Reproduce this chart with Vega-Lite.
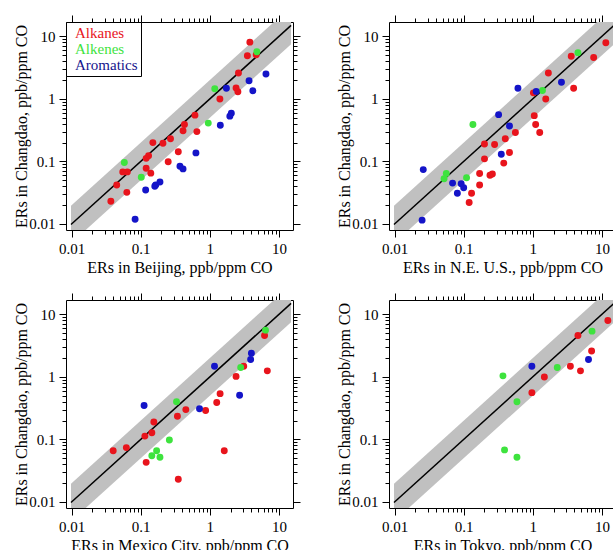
{
  "$schema": "https://vega.github.io/schema/vega-lite/v6.json",
  "autosize": {"type": "pad"},
  "padding": {"left": 13, "top": 14, "right": 0, "bottom": 0},
  "background": "white",
  "config": {
    "view": {"stroke": "black", "strokeWidth": 1},
    "axis": {"domain": false, "grid": false, "tickColor": "black", "labelColor": "black", "titleColor": "black", "labelFont": "Liberation Serif", "titleFont": "Liberation Serif", "labelFontSize": 15, "titleFontSize": 16, "titleFontWeight": "normal"},
    "legend": {"labelFont": "Liberation Serif"}
  },
  "datasets": {
    "band": [
      {"x": 0.0098, "lo": 0.0049, "hi": 0.0196, "mid": 0.0098},
      {"x": 15, "lo": 7.5, "hi": 30, "mid": 15}
    ],
    "pts": [
      {"site": "Beijing", "group": "Alkanes", "x": 3.8, "y": 8.1},
      {"site": "Beijing", "group": "Alkanes", "x": 3.5, "y": 4.9},
      {"site": "Beijing", "group": "Alkanes", "x": 4.7, "y": 5.1},
      {"site": "Beijing", "group": "Alkanes", "x": 2.6, "y": 2.6},
      {"site": "Beijing", "group": "Alkanes", "x": 2.4, "y": 1.5},
      {"site": "Beijing", "group": "Alkanes", "x": 2.55, "y": 1.3},
      {"site": "Beijing", "group": "Alkanes", "x": 1.4, "y": 1.0},
      {"site": "Beijing", "group": "Alkanes", "x": 0.61, "y": 0.55},
      {"site": "Beijing", "group": "Alkanes", "x": 0.43, "y": 0.39},
      {"site": "Beijing", "group": "Alkanes", "x": 0.41, "y": 0.31},
      {"site": "Beijing", "group": "Alkanes", "x": 0.65, "y": 0.30},
      {"site": "Beijing", "group": "Alkanes", "x": 0.27, "y": 0.23},
      {"site": "Beijing", "group": "Alkanes", "x": 0.21, "y": 0.195},
      {"site": "Beijing", "group": "Alkanes", "x": 0.15, "y": 0.20},
      {"site": "Beijing", "group": "Alkanes", "x": 0.13, "y": 0.123},
      {"site": "Beijing", "group": "Alkanes", "x": 0.12, "y": 0.112},
      {"site": "Beijing", "group": "Alkanes", "x": 0.35, "y": 0.143},
      {"site": "Beijing", "group": "Alkanes", "x": 0.25, "y": 0.099},
      {"site": "Beijing", "group": "Alkanes", "x": 0.12, "y": 0.078},
      {"site": "Beijing", "group": "Alkanes", "x": 0.14, "y": 0.065},
      {"site": "Beijing", "group": "Alkanes", "x": 0.055, "y": 0.068},
      {"site": "Beijing", "group": "Alkanes", "x": 0.064, "y": 0.068},
      {"site": "Beijing", "group": "Alkanes", "x": 0.045, "y": 0.042},
      {"site": "Beijing", "group": "Alkanes", "x": 0.063, "y": 0.032},
      {"site": "Beijing", "group": "Alkanes", "x": 0.037, "y": 0.023},
      {"site": "Beijing", "group": "Alkenes", "x": 4.8, "y": 5.7},
      {"site": "Beijing", "group": "Alkenes", "x": 1.18, "y": 1.45},
      {"site": "Beijing", "group": "Alkenes", "x": 0.95, "y": 0.41},
      {"site": "Beijing", "group": "Alkenes", "x": 0.058, "y": 0.096},
      {"site": "Beijing", "group": "Alkenes", "x": 0.102, "y": 0.056},
      {"site": "Beijing", "group": "Aromatics", "x": 6.5, "y": 2.5},
      {"site": "Beijing", "group": "Aromatics", "x": 3.7, "y": 1.95},
      {"site": "Beijing", "group": "Aromatics", "x": 1.74, "y": 1.48},
      {"site": "Beijing", "group": "Aromatics", "x": 4.2, "y": 1.35},
      {"site": "Beijing", "group": "Aromatics", "x": 2.05, "y": 0.59},
      {"site": "Beijing", "group": "Aromatics", "x": 1.95, "y": 0.53},
      {"site": "Beijing", "group": "Aromatics", "x": 1.42, "y": 0.38},
      {"site": "Beijing", "group": "Aromatics", "x": 0.63, "y": 0.137},
      {"site": "Beijing", "group": "Aromatics", "x": 0.37, "y": 0.084},
      {"site": "Beijing", "group": "Aromatics", "x": 0.41, "y": 0.076},
      {"site": "Beijing", "group": "Aromatics", "x": 0.19, "y": 0.047},
      {"site": "Beijing", "group": "Aromatics", "x": 0.165, "y": 0.042},
      {"site": "Beijing", "group": "Aromatics", "x": 0.16, "y": 0.040},
      {"site": "Beijing", "group": "Aromatics", "x": 0.118, "y": 0.035},
      {"site": "Beijing", "group": "Aromatics", "x": 0.083, "y": 0.0119},
      {"site": "NEUS", "group": "Alkanes", "x": 11.4, "y": 7.9},
      {"site": "NEUS", "group": "Alkanes", "x": 3.6, "y": 4.8},
      {"site": "NEUS", "group": "Alkanes", "x": 7.6, "y": 4.6},
      {"site": "NEUS", "group": "Alkanes", "x": 1.68, "y": 2.6},
      {"site": "NEUS", "group": "Alkanes", "x": 3.9, "y": 1.48},
      {"site": "NEUS", "group": "Alkanes", "x": 1.02, "y": 1.25},
      {"site": "NEUS", "group": "Alkanes", "x": 1.54, "y": 1.0},
      {"site": "NEUS", "group": "Alkanes", "x": 1.05, "y": 0.54},
      {"site": "NEUS", "group": "Alkanes", "x": 1.1, "y": 0.39},
      {"site": "NEUS", "group": "Alkanes", "x": 1.26, "y": 0.29},
      {"site": "NEUS", "group": "Alkanes", "x": 0.56, "y": 0.29},
      {"site": "NEUS", "group": "Alkanes", "x": 0.40, "y": 0.23},
      {"site": "NEUS", "group": "Alkanes", "x": 0.28, "y": 0.186},
      {"site": "NEUS", "group": "Alkanes", "x": 0.20, "y": 0.19},
      {"site": "NEUS", "group": "Alkanes", "x": 0.46, "y": 0.139},
      {"site": "NEUS", "group": "Alkanes", "x": 0.20, "y": 0.11},
      {"site": "NEUS", "group": "Alkanes", "x": 0.38, "y": 0.094},
      {"site": "NEUS", "group": "Alkanes", "x": 0.17, "y": 0.064},
      {"site": "NEUS", "group": "Alkanes", "x": 0.26, "y": 0.063},
      {"site": "NEUS", "group": "Alkanes", "x": 0.24, "y": 0.06},
      {"site": "NEUS", "group": "Alkanes", "x": 0.17, "y": 0.042},
      {"site": "NEUS", "group": "Alkanes", "x": 0.13, "y": 0.031},
      {"site": "NEUS", "group": "Alkanes", "x": 0.12, "y": 0.022},
      {"site": "NEUS", "group": "Alkenes", "x": 4.5, "y": 5.5},
      {"site": "NEUS", "group": "Alkenes", "x": 1.38, "y": 1.36},
      {"site": "NEUS", "group": "Alkenes", "x": 0.136, "y": 0.39},
      {"site": "NEUS", "group": "Alkenes", "x": 0.056, "y": 0.064},
      {"site": "NEUS", "group": "Alkenes", "x": 0.11, "y": 0.055},
      {"site": "NEUS", "group": "Alkenes", "x": 0.052, "y": 0.053},
      {"site": "NEUS", "group": "Aromatics", "x": 2.6, "y": 1.85},
      {"site": "NEUS", "group": "Aromatics", "x": 0.61, "y": 1.48},
      {"site": "NEUS", "group": "Aromatics", "x": 1.12, "y": 1.32},
      {"site": "NEUS", "group": "Aromatics", "x": 0.32, "y": 0.56},
      {"site": "NEUS", "group": "Aromatics", "x": 0.46, "y": 0.37},
      {"site": "NEUS", "group": "Aromatics", "x": 0.35, "y": 0.13},
      {"site": "NEUS", "group": "Aromatics", "x": 0.026, "y": 0.074},
      {"site": "NEUS", "group": "Aromatics", "x": 0.069, "y": 0.045},
      {"site": "NEUS", "group": "Aromatics", "x": 0.092, "y": 0.044},
      {"site": "NEUS", "group": "Aromatics", "x": 0.1, "y": 0.038},
      {"site": "NEUS", "group": "Aromatics", "x": 0.081, "y": 0.031},
      {"site": "NEUS", "group": "Aromatics", "x": 0.025, "y": 0.0115},
      {"site": "Mexico", "group": "Alkanes", "x": 6.2, "y": 4.6},
      {"site": "Mexico", "group": "Alkanes", "x": 3.1, "y": 1.48},
      {"site": "Mexico", "group": "Alkanes", "x": 6.8, "y": 1.25},
      {"site": "Mexico", "group": "Alkanes", "x": 2.4, "y": 1.02},
      {"site": "Mexico", "group": "Alkanes", "x": 1.41, "y": 0.54},
      {"site": "Mexico", "group": "Alkanes", "x": 1.26, "y": 0.39},
      {"site": "Mexico", "group": "Alkanes", "x": 0.45, "y": 0.30},
      {"site": "Mexico", "group": "Alkanes", "x": 0.87, "y": 0.29},
      {"site": "Mexico", "group": "Alkanes", "x": 0.34, "y": 0.235},
      {"site": "Mexico", "group": "Alkanes", "x": 0.155, "y": 0.19},
      {"site": "Mexico", "group": "Alkanes", "x": 0.145, "y": 0.128},
      {"site": "Mexico", "group": "Alkanes", "x": 0.115, "y": 0.113},
      {"site": "Mexico", "group": "Alkanes", "x": 0.062, "y": 0.074},
      {"site": "Mexico", "group": "Alkanes", "x": 0.040, "y": 0.066},
      {"site": "Mexico", "group": "Alkanes", "x": 1.62, "y": 0.066},
      {"site": "Mexico", "group": "Alkanes", "x": 0.12, "y": 0.043},
      {"site": "Mexico", "group": "Alkanes", "x": 0.35, "y": 0.023},
      {"site": "Mexico", "group": "Alkenes", "x": 6.4, "y": 5.6},
      {"site": "Mexico", "group": "Alkenes", "x": 2.8, "y": 1.41},
      {"site": "Mexico", "group": "Alkenes", "x": 0.33, "y": 0.40},
      {"site": "Mexico", "group": "Alkenes", "x": 0.26, "y": 0.098},
      {"site": "Mexico", "group": "Alkenes", "x": 0.17, "y": 0.066},
      {"site": "Mexico", "group": "Alkenes", "x": 0.145, "y": 0.055},
      {"site": "Mexico", "group": "Alkenes", "x": 0.19, "y": 0.052},
      {"site": "Mexico", "group": "Aromatics", "x": 4.0, "y": 2.4},
      {"site": "Mexico", "group": "Aromatics", "x": 3.9, "y": 1.9},
      {"site": "Mexico", "group": "Aromatics", "x": 1.17, "y": 1.48},
      {"site": "Mexico", "group": "Aromatics", "x": 2.7, "y": 0.51},
      {"site": "Mexico", "group": "Aromatics", "x": 0.112, "y": 0.35},
      {"site": "Mexico", "group": "Aromatics", "x": 0.71, "y": 0.31},
      {"site": "Tokyo", "group": "Alkanes", "x": 12.2, "y": 8.0},
      {"site": "Tokyo", "group": "Alkanes", "x": 4.5, "y": 4.6},
      {"site": "Tokyo", "group": "Alkanes", "x": 7.1, "y": 2.6},
      {"site": "Tokyo", "group": "Alkanes", "x": 3.5, "y": 1.48},
      {"site": "Tokyo", "group": "Alkanes", "x": 4.9, "y": 1.25},
      {"site": "Tokyo", "group": "Alkanes", "x": 1.47, "y": 1.0},
      {"site": "Tokyo", "group": "Alkanes", "x": 0.97, "y": 0.56},
      {"site": "Tokyo", "group": "Alkenes", "x": 7.2, "y": 5.4},
      {"site": "Tokyo", "group": "Alkenes", "x": 2.26, "y": 1.41},
      {"site": "Tokyo", "group": "Alkenes", "x": 0.37, "y": 1.04},
      {"site": "Tokyo", "group": "Alkenes", "x": 0.59, "y": 0.40},
      {"site": "Tokyo", "group": "Alkenes", "x": 0.39, "y": 0.068},
      {"site": "Tokyo", "group": "Alkenes", "x": 0.59, "y": 0.052},
      {"site": "Tokyo", "group": "Aromatics", "x": 6.4, "y": 1.9},
      {"site": "Tokyo", "group": "Aromatics", "x": 0.97, "y": 1.48}
    ]
  },
  "columns": 2,
  "bounds": "flush",
  "spacing": {"row": 70, "column": 96},
  "resolve": {"scale": {"color": "independent"}, "legend": {"color": "independent"}},
  "concat": [
    {
      "width": 227, "height": 208,
      "resolve": {"axis": {"x": "independent", "y": "independent"}},
      "layer": [
        {"data": {"name": "band"}, "mark": {"type": "area", "color": "#c0c0c0", "clip": true},
         "encoding": {
           "x": {"field": "x", "type": "quantitative", "scale": {"type": "log", "domain": [0.0083, 16]},
                 "axis": {"orient": "bottom", "title": "ERs in Beijing, ppb/ppm CO", "values": [0.01,0.02,0.03,0.04,0.05,0.06,0.07,0.08,0.09,0.1,0.2,0.3,0.4,0.5,0.6,0.7,0.8,0.9,1,2,3,4,5,6,7,8,9,10], "format": "~g", "labelExpr": "abs(log(datum.value)/LN10 - round(log(datum.value)/LN10)) < 0.001 ? datum.label : ''", "labelOverlap": false, "labelFlush": false, "tickSize": {"condition": {"test": "abs(log(datum.value)/LN10 - round(log(datum.value)/LN10)) < 0.001", "value": 7}, "value": 4}, "labelPadding": 4, "titlePadding": 3}},
           "y": {"field": "lo", "type": "quantitative", "scale": {"type": "log", "domain": [0.008, 17]},
                 "axis": {"orient": "left", "title": "ERs in Changdao, ppb/ppm CO", "values": [0.01,0.02,0.03,0.04,0.05,0.06,0.07,0.08,0.09,0.1,0.2,0.3,0.4,0.5,0.6,0.7,0.8,0.9,1,2,3,4,5,6,7,8,9,10], "format": "~g", "labelExpr": "abs(log(datum.value)/LN10 - round(log(datum.value)/LN10)) < 0.001 ? datum.label : ''", "labelOverlap": false, "labelFlush": false, "tickSize": {"condition": {"test": "abs(log(datum.value)/LN10 - round(log(datum.value)/LN10)) < 0.001", "value": 7}, "value": 4}, "labelPadding": 4, "titlePadding": -1}},
           "y2": {"field": "hi"}
         }},
        {"data": {"name": "band"}, "mark": {"type": "line", "color": "black", "strokeWidth": 1.5, "clip": true},
         "encoding": {
           "x": {"field": "x", "type": "quantitative", "scale": {"type": "log", "domain": [0.0083, 16]},
                 "axis": {"orient": "top", "title": null, "labels": false, "values": [0.01,0.02,0.03,0.04,0.05,0.06,0.07,0.08,0.09,0.1,0.2,0.3,0.4,0.5,0.6,0.7,0.8,0.9,1,2,3,4,5,6,7,8,9,10], "tickSize": {"condition": {"test": "abs(log(datum.value)/LN10 - round(log(datum.value)/LN10)) < 0.001", "value": 7}, "value": 4}}},
           "y": {"field": "mid", "type": "quantitative", "scale": {"type": "log", "domain": [0.008, 17]},
                 "axis": {"orient": "right", "title": null, "labels": false, "values": [0.01,0.02,0.03,0.04,0.05,0.06,0.07,0.08,0.09,0.1,0.2,0.3,0.4,0.5,0.6,0.7,0.8,0.9,1,2,3,4,5,6,7,8,9,10], "tickSize": {"condition": {"test": "abs(log(datum.value)/LN10 - round(log(datum.value)/LN10)) < 0.001", "value": 7}, "value": 4}}}
         }},
        {"data": {"name": "pts"}, "transform": [{"filter": "datum.site == 'Beijing'"}],
         "mark": {"type": "circle", "size": 48, "opacity": 1, "clip": true},
         "encoding": {
           "x": {"field": "x", "type": "quantitative", "scale": {"type": "log", "domain": [0.0083, 16]}, "axis": null},
           "y": {"field": "y", "type": "quantitative", "scale": {"type": "log", "domain": [0.008, 17]}, "axis": null},
           "color": {"field": "group", "type": "nominal", "scale": {"domain": ["Alkanes", "Alkenes", "Aromatics"], "range": ["#e8141c", "#3ee33e", "#1414c8"]},
                     "legend": {"title": null, "orient": "top-left", "offset": 0, "padding": 3, "strokeColor": "black", "fillColor": "white", "symbolSize": 0, "symbolOpacity": 0, "symbolStrokeWidth": 0, "labelOffset": -9, "labelFont": "Liberation Serif", "labelFontSize": 15, "rowPadding": 0, "labelColor": {"expr": "datum.label == 'Alkanes' ? '#e8141c' : datum.label == 'Alkenes' ? '#3ee33e' : '#14148c'"}}}
         }}
      ]
    },
    {
      "width": 227, "height": 208,
      "resolve": {"axis": {"x": "independent", "y": "independent"}},
      "layer": [
        {"data": {"name": "band"}, "mark": {"type": "area", "color": "#c0c0c0", "clip": true},
         "encoding": {
           "x": {"field": "x", "type": "quantitative", "scale": {"type": "log", "domain": [0.0083, 16]},
                 "axis": {"orient": "bottom", "title": "ERs in N.E. U.S., ppb/ppm CO", "values": [0.01,0.02,0.03,0.04,0.05,0.06,0.07,0.08,0.09,0.1,0.2,0.3,0.4,0.5,0.6,0.7,0.8,0.9,1,2,3,4,5,6,7,8,9,10], "format": "~g", "labelExpr": "abs(log(datum.value)/LN10 - round(log(datum.value)/LN10)) < 0.001 ? datum.label : ''", "labelOverlap": false, "labelFlush": false, "tickSize": {"condition": {"test": "abs(log(datum.value)/LN10 - round(log(datum.value)/LN10)) < 0.001", "value": 7}, "value": 4}, "labelPadding": 4, "titlePadding": 3}},
           "y": {"field": "lo", "type": "quantitative", "scale": {"type": "log", "domain": [0.008, 17]},
                 "axis": {"orient": "left", "title": "ERs in Changdao, ppb/ppm CO", "values": [0.01,0.02,0.03,0.04,0.05,0.06,0.07,0.08,0.09,0.1,0.2,0.3,0.4,0.5,0.6,0.7,0.8,0.9,1,2,3,4,5,6,7,8,9,10], "format": "~g", "labelExpr": "abs(log(datum.value)/LN10 - round(log(datum.value)/LN10)) < 0.001 ? datum.label : ''", "labelOverlap": false, "labelFlush": false, "tickSize": {"condition": {"test": "abs(log(datum.value)/LN10 - round(log(datum.value)/LN10)) < 0.001", "value": 7}, "value": 4}, "labelPadding": 4, "titlePadding": -1}},
           "y2": {"field": "hi"}
         }},
        {"data": {"name": "band"}, "mark": {"type": "line", "color": "black", "strokeWidth": 1.5, "clip": true},
         "encoding": {
           "x": {"field": "x", "type": "quantitative", "scale": {"type": "log", "domain": [0.0083, 16]},
                 "axis": {"orient": "top", "title": null, "labels": false, "values": [0.01,0.02,0.03,0.04,0.05,0.06,0.07,0.08,0.09,0.1,0.2,0.3,0.4,0.5,0.6,0.7,0.8,0.9,1,2,3,4,5,6,7,8,9,10], "tickSize": {"condition": {"test": "abs(log(datum.value)/LN10 - round(log(datum.value)/LN10)) < 0.001", "value": 7}, "value": 4}}},
           "y": {"field": "mid", "type": "quantitative", "scale": {"type": "log", "domain": [0.008, 17]},
                 "axis": {"orient": "right", "title": null, "labels": false, "values": [0.01,0.02,0.03,0.04,0.05,0.06,0.07,0.08,0.09,0.1,0.2,0.3,0.4,0.5,0.6,0.7,0.8,0.9,1,2,3,4,5,6,7,8,9,10], "tickSize": {"condition": {"test": "abs(log(datum.value)/LN10 - round(log(datum.value)/LN10)) < 0.001", "value": 7}, "value": 4}}}
         }},
        {"data": {"name": "pts"}, "transform": [{"filter": "datum.site == 'NEUS'"}],
         "mark": {"type": "circle", "size": 48, "opacity": 1, "clip": true},
         "encoding": {
           "x": {"field": "x", "type": "quantitative", "scale": {"type": "log", "domain": [0.0083, 16]}, "axis": null},
           "y": {"field": "y", "type": "quantitative", "scale": {"type": "log", "domain": [0.008, 17]}, "axis": null},
           "color": {"field": "group", "type": "nominal", "scale": {"domain": ["Alkanes", "Alkenes", "Aromatics"], "range": ["#e8141c", "#3ee33e", "#1414c8"]}, "legend": null}
         }}
      ]
    },
    {
      "width": 227, "height": 208,
      "resolve": {"axis": {"x": "independent", "y": "independent"}},
      "layer": [
        {"data": {"name": "band"}, "mark": {"type": "area", "color": "#c0c0c0", "clip": true},
         "encoding": {
           "x": {"field": "x", "type": "quantitative", "scale": {"type": "log", "domain": [0.0083, 16]},
                 "axis": {"orient": "bottom", "title": "ERs in Mexico City, ppb/ppm CO", "values": [0.01,0.02,0.03,0.04,0.05,0.06,0.07,0.08,0.09,0.1,0.2,0.3,0.4,0.5,0.6,0.7,0.8,0.9,1,2,3,4,5,6,7,8,9,10], "format": "~g", "labelExpr": "abs(log(datum.value)/LN10 - round(log(datum.value)/LN10)) < 0.001 ? datum.label : ''", "labelOverlap": false, "labelFlush": false, "tickSize": {"condition": {"test": "abs(log(datum.value)/LN10 - round(log(datum.value)/LN10)) < 0.001", "value": 7}, "value": 4}, "labelPadding": 4, "titlePadding": 3}},
           "y": {"field": "lo", "type": "quantitative", "scale": {"type": "log", "domain": [0.008, 17]},
                 "axis": {"orient": "left", "title": "ERs in Changdao, ppb/ppm CO", "values": [0.01,0.02,0.03,0.04,0.05,0.06,0.07,0.08,0.09,0.1,0.2,0.3,0.4,0.5,0.6,0.7,0.8,0.9,1,2,3,4,5,6,7,8,9,10], "format": "~g", "labelExpr": "abs(log(datum.value)/LN10 - round(log(datum.value)/LN10)) < 0.001 ? datum.label : ''", "labelOverlap": false, "labelFlush": false, "tickSize": {"condition": {"test": "abs(log(datum.value)/LN10 - round(log(datum.value)/LN10)) < 0.001", "value": 7}, "value": 4}, "labelPadding": 4, "titlePadding": -1}},
           "y2": {"field": "hi"}
         }},
        {"data": {"name": "band"}, "mark": {"type": "line", "color": "black", "strokeWidth": 1.5, "clip": true},
         "encoding": {
           "x": {"field": "x", "type": "quantitative", "scale": {"type": "log", "domain": [0.0083, 16]},
                 "axis": {"orient": "top", "title": null, "labels": false, "values": [0.01,0.02,0.03,0.04,0.05,0.06,0.07,0.08,0.09,0.1,0.2,0.3,0.4,0.5,0.6,0.7,0.8,0.9,1,2,3,4,5,6,7,8,9,10], "tickSize": {"condition": {"test": "abs(log(datum.value)/LN10 - round(log(datum.value)/LN10)) < 0.001", "value": 7}, "value": 4}}},
           "y": {"field": "mid", "type": "quantitative", "scale": {"type": "log", "domain": [0.008, 17]},
                 "axis": {"orient": "right", "title": null, "labels": false, "values": [0.01,0.02,0.03,0.04,0.05,0.06,0.07,0.08,0.09,0.1,0.2,0.3,0.4,0.5,0.6,0.7,0.8,0.9,1,2,3,4,5,6,7,8,9,10], "tickSize": {"condition": {"test": "abs(log(datum.value)/LN10 - round(log(datum.value)/LN10)) < 0.001", "value": 7}, "value": 4}}}
         }},
        {"data": {"name": "pts"}, "transform": [{"filter": "datum.site == 'Mexico'"}],
         "mark": {"type": "circle", "size": 48, "opacity": 1, "clip": true},
         "encoding": {
           "x": {"field": "x", "type": "quantitative", "scale": {"type": "log", "domain": [0.0083, 16]}, "axis": null},
           "y": {"field": "y", "type": "quantitative", "scale": {"type": "log", "domain": [0.008, 17]}, "axis": null},
           "color": {"field": "group", "type": "nominal", "scale": {"domain": ["Alkanes", "Alkenes", "Aromatics"], "range": ["#e8141c", "#3ee33e", "#1414c8"]}, "legend": null}
         }}
      ]
    },
    {
      "width": 227, "height": 208,
      "resolve": {"axis": {"x": "independent", "y": "independent"}},
      "layer": [
        {"data": {"name": "band"}, "mark": {"type": "area", "color": "#c0c0c0", "clip": true},
         "encoding": {
           "x": {"field": "x", "type": "quantitative", "scale": {"type": "log", "domain": [0.0083, 16]},
                 "axis": {"orient": "bottom", "title": "ERs in Tokyo, ppb/ppm CO", "values": [0.01,0.02,0.03,0.04,0.05,0.06,0.07,0.08,0.09,0.1,0.2,0.3,0.4,0.5,0.6,0.7,0.8,0.9,1,2,3,4,5,6,7,8,9,10], "format": "~g", "labelExpr": "abs(log(datum.value)/LN10 - round(log(datum.value)/LN10)) < 0.001 ? datum.label : ''", "labelOverlap": false, "labelFlush": false, "tickSize": {"condition": {"test": "abs(log(datum.value)/LN10 - round(log(datum.value)/LN10)) < 0.001", "value": 7}, "value": 4}, "labelPadding": 4, "titlePadding": 3}},
           "y": {"field": "lo", "type": "quantitative", "scale": {"type": "log", "domain": [0.008, 17]},
                 "axis": {"orient": "left", "title": "ERs in Changdao, ppb/ppm CO", "values": [0.01,0.02,0.03,0.04,0.05,0.06,0.07,0.08,0.09,0.1,0.2,0.3,0.4,0.5,0.6,0.7,0.8,0.9,1,2,3,4,5,6,7,8,9,10], "format": "~g", "labelExpr": "abs(log(datum.value)/LN10 - round(log(datum.value)/LN10)) < 0.001 ? datum.label : ''", "labelOverlap": false, "labelFlush": false, "tickSize": {"condition": {"test": "abs(log(datum.value)/LN10 - round(log(datum.value)/LN10)) < 0.001", "value": 7}, "value": 4}, "labelPadding": 4, "titlePadding": -1}},
           "y2": {"field": "hi"}
         }},
        {"data": {"name": "band"}, "mark": {"type": "line", "color": "black", "strokeWidth": 1.5, "clip": true},
         "encoding": {
           "x": {"field": "x", "type": "quantitative", "scale": {"type": "log", "domain": [0.0083, 16]},
                 "axis": {"orient": "top", "title": null, "labels": false, "values": [0.01,0.02,0.03,0.04,0.05,0.06,0.07,0.08,0.09,0.1,0.2,0.3,0.4,0.5,0.6,0.7,0.8,0.9,1,2,3,4,5,6,7,8,9,10], "tickSize": {"condition": {"test": "abs(log(datum.value)/LN10 - round(log(datum.value)/LN10)) < 0.001", "value": 7}, "value": 4}}},
           "y": {"field": "mid", "type": "quantitative", "scale": {"type": "log", "domain": [0.008, 17]},
                 "axis": {"orient": "right", "title": null, "labels": false, "values": [0.01,0.02,0.03,0.04,0.05,0.06,0.07,0.08,0.09,0.1,0.2,0.3,0.4,0.5,0.6,0.7,0.8,0.9,1,2,3,4,5,6,7,8,9,10], "tickSize": {"condition": {"test": "abs(log(datum.value)/LN10 - round(log(datum.value)/LN10)) < 0.001", "value": 7}, "value": 4}}}
         }},
        {"data": {"name": "pts"}, "transform": [{"filter": "datum.site == 'Tokyo'"}],
         "mark": {"type": "circle", "size": 48, "opacity": 1, "clip": true},
         "encoding": {
           "x": {"field": "x", "type": "quantitative", "scale": {"type": "log", "domain": [0.0083, 16]}, "axis": null},
           "y": {"field": "y", "type": "quantitative", "scale": {"type": "log", "domain": [0.008, 17]}, "axis": null},
           "color": {"field": "group", "type": "nominal", "scale": {"domain": ["Alkanes", "Alkenes", "Aromatics"], "range": ["#e8141c", "#3ee33e", "#1414c8"]}, "legend": null}
         }}
      ]
    }
  ]
}
